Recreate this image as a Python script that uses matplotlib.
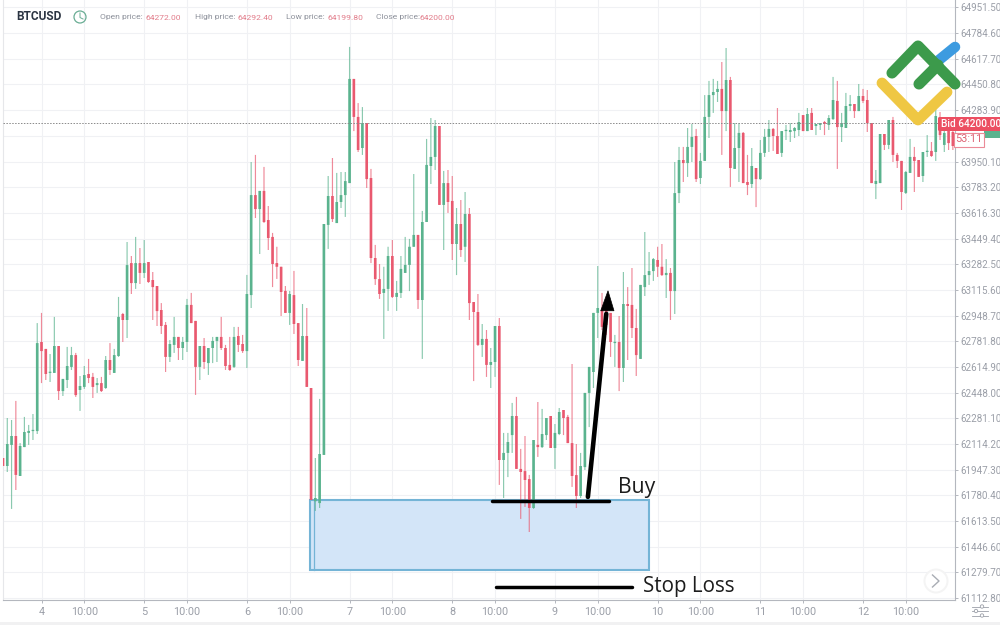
import matplotlib
matplotlib.use('Agg')
import matplotlib.pyplot as plt
from matplotlib.patches import Circle, FancyBboxPatch, Polygon, Rectangle
import numpy as np

# hourly BTCUSD candles
opens = [62023, 61971, 62108, 62166, 61906, 62094, 62186, 62198, 62198, 62777, 62732, 62576, 62576, 62751, 62458, 62530,
         62615, 62692, 62465, 62485, 62569, 62550, 62497, 62510, 62478, 62660, 62576, 62686, 62959, 62920, 63290, 63160,
         63290, 63226, 63297, 63180, 63141, 62985, 62888, 62680, 62758, 62810, 62738, 62777, 63018, 62914, 62615, 62751,
         62640, 62738, 62784, 62810, 62738, 62628, 62615, 62816, 62764, 62718, 63082, 63732, 63641, 63759, 63570, 63460,
         63290, 63266, 63109, 62966, 63082, 62900, 62654, 62816, 62478, 61742, 61730, 62043, 63538, 63726, 63550, 63687,
         63732, 63810, 64487, 64240, 64038, 64200, 63843, 63323, 63186, 63096, 63122, 63336, 63070, 63096, 63226, 63278,
         63396, 63473, 63050, 63557, 63921, 63980, 64181, 63668, 63810, 63694, 63414, 63544, 63396, 63609, 63037, 62972,
         62758, 62797, 62628, 62647, 62881, 62010, 62056, 62172, 62296, 61952, 61938, 61886, 61698, 62108, 62094, 62172,
         62296, 62088, 62179, 62335, 62290, 62120, 61912, 61776, 61964, 62446, 62582, 62966, 62985, 62985, 62966, 62770,
         62777, 62608, 63024, 63018, 62868, 62667, 63134, 63212, 63238, 63310, 63266, 63212, 63226, 63108, 63745, 63960,
         63940, 64045, 64116, 63843, 63954, 64240, 64382, 64402, 64422, 64278, 64480, 63902, 64038, 64136, 63817, 63804,
         63908, 63836, 64006, 64110, 64162, 64116, 64006, 64148, 64142, 64148, 64155, 64252, 64148, 64266, 64181, 64188,
         64207, 64188, 64226, 64344, 64174, 64168, 64311, 64324, 64278, 64376, 64350, 64200, 63804, 63810, 64129, 64058,
         64220, 63993, 63954, 63746, 63876, 63980, 63960, 63856, 64012, 64019, 64012, 64233, 64058, 64155, 64142]
closes = [61971, 62114, 62166, 61913, 62101, 62192, 62199, 62205, 62770, 62718, 62569, 62582, 62751, 62458, 62537, 62621,
          62692, 62432, 62491, 62562, 62543, 62485, 62510, 62458, 62660, 62595, 62692, 62940, 62920, 63277, 63160, 63290,
          63226, 63290, 63167, 63134, 62978, 62881, 62680, 62764, 62810, 62738, 62777, 63018, 62900, 62615, 62751, 62647,
          62738, 62784, 62810, 62738, 62621, 62595, 62810, 62758, 62718, 63089, 63732, 63641, 63759, 63557, 63453, 63284,
          63266, 63102, 62966, 63089, 62894, 62660, 62816, 62485, 61750, 61763, 62049, 63544, 63726, 63576, 63687, 63732,
          63823, 64487, 64240, 64025, 64200, 63836, 63323, 63186, 63089, 63122, 63336, 63070, 63096, 63252, 63278, 63396,
          63473, 63050, 63557, 63928, 63980, 64181, 63668, 63810, 63687, 63414, 63544, 63375, 63609, 63030, 62972, 62758,
          62797, 62628, 62647, 62881, 62010, 62056, 62127, 62296, 61952, 61932, 61880, 61698, 62140, 62094, 62179, 62283,
          62088, 62186, 62322, 62283, 62120, 61906, 61776, 61971, 62446, 62615, 62966, 62998, 62875, 62888, 62777, 62777,
          62608, 63024, 63011, 62868, 62692, 63148, 63212, 63238, 63316, 63266, 63212, 63226, 63108, 63745, 63960, 63940,
          64045, 64110, 63836, 63954, 64240, 64382, 64402, 64422, 64278, 64480, 63908, 64038, 64136, 63810, 63798, 63921,
          63836, 64006, 64110, 64162, 64116, 63999, 64148, 64155, 64155, 64168, 64207, 64148, 64259, 64155, 64194, 64200,
          64194, 64233, 64350, 64174, 64200, 64311, 64324, 64278, 64376, 64344, 64200, 63810, 63824, 64129, 64058, 64220,
          63993, 63954, 63752, 63882, 63980, 63954, 63850, 64012, 64019, 63986, 64246, 64122, 64136, 64070, 64051]
highs = [62023, 62283, 62270, 62394, 62120, 62290, 62238, 62309, 62900, 62966, 62732, 62699, 62940, 62751, 62537, 62745,
         62745, 62706, 62556, 62621, 62667, 62576, 62543, 62550, 62686, 62770, 62732, 63070, 62966, 63427, 63336, 63460,
         63388, 63440, 63297, 63232, 63141, 63030, 62907, 62790, 62940, 62810, 62810, 63057, 63096, 62914, 62751, 62803,
         62738, 62810, 62810, 62940, 62758, 62810, 62875, 62875, 62823, 63213, 63947, 63993, 63759, 63915, 63661, 63486,
         63396, 63266, 63141, 63109, 63239, 62900, 63024, 62998, 62478, 62023, 62407, 63544, 63856, 63973, 63876, 63882,
         63882, 64695, 64487, 64330, 64304, 64200, 63902, 63408, 63284, 63266, 63396, 63440, 63174, 63336, 63460, 63447,
         63869, 63473, 63629, 64097, 64233, 64220, 64181, 63889, 63895, 63856, 63648, 63700, 63752, 63648, 63037, 63089,
         62894, 62855, 62738, 62881, 62933, 62186, 62186, 62381, 62420, 62082, 62166, 61913, 62140, 62387, 62342, 62283,
         62296, 62244, 62348, 62335, 62303, 62634, 62114, 62056, 62446, 62615, 62966, 63271, 63096, 63050, 62966, 62823,
         62946, 63232, 63134, 63258, 62992, 63148, 63492, 63362, 63323, 63396, 63414, 63316, 63258, 63947, 64045, 64045,
         64168, 64194, 64162, 64006, 64382, 64474, 64487, 64474, 64597, 64688, 64500, 64200, 64200, 64142, 63993, 64038,
         63908, 64090, 64162, 64220, 64168, 64298, 64148, 64188, 64200, 64174, 64266, 64252, 64298, 64298, 64194, 64200,
         64214, 64252, 64500, 64474, 64266, 64396, 64382, 64324, 64454, 64422, 64415, 64200, 63895, 64129, 64129, 64220,
         64240, 64006, 63954, 63889, 64097, 64045, 63960, 64012, 64122, 64077, 64298, 64272, 64168, 64188, 64168]
lows = [61971, 61932, 61692, 61815, 61906, 62094, 62108, 62140, 62179, 62510, 62530, 62517, 62576, 62400, 62426, 62478,
        62595, 62420, 62329, 62472, 62510, 62413, 62446, 62452, 62472, 62563, 62576, 62680, 62777, 62803, 63089, 63122,
        63154, 63193, 63161, 62920, 62881, 62829, 62582, 62647, 62706, 62660, 62660, 62712, 62900, 62433, 62530, 62602,
        62563, 62640, 62647, 62725, 62595, 62589, 62608, 62712, 62706, 62608, 62998, 63583, 63349, 63551, 63375, 63134,
        63187, 62946, 62966, 62888, 62829, 62621, 62654, 62485, 61750, 61679, 61698, 62043, 63382, 63557, 63551, 63648,
        63590, 63810, 64148, 64012, 63993, 63778, 63290, 63148, 63057, 62797, 62979, 63063, 62979, 63063, 63226, 63108,
        63396, 62992, 62667, 63557, 63804, 63895, 63668, 63375, 63616, 63310, 63212, 63330, 63297, 62920, 62523, 62751,
        62680, 62550, 62478, 62550, 61848, 61763, 61899, 62056, 61952, 61627, 61705, 61542, 61692, 62030, 62088, 62140,
        62088, 61952, 62172, 62172, 62120, 61835, 61698, 61763, 61945, 62224, 62478, 62803, 62855, 62823, 62680, 62615,
        62458, 62517, 62660, 62803, 62556, 62667, 63076, 63148, 63174, 63200, 63206, 63063, 62920, 62959, 63680, 63817,
        63850, 63947, 63817, 63804, 63954, 64103, 64266, 64337, 63993, 64148, 63785, 63902, 63817, 63810, 63732, 63778,
        63654, 63830, 63980, 64012, 64019, 63999, 63980, 64090, 64077, 64103, 64116, 64148, 64148, 64155, 64122, 64155,
        64122, 64155, 64220, 63902, 64077, 64168, 64278, 64233, 64278, 64330, 64142, 63810, 63706, 63810, 64025, 64031,
        63947, 63908, 63635, 63739, 63876, 63752, 63850, 63817, 63980, 63980, 63954, 64090, 64012, 64025, 64025]

# 64117.00 is hidden behind the bid labels in the reference
price_ticks = [64951.5, 64784.6, 64617.7, 64450.8, 64283.9, 64117.0, 63950.1, 63783.2, 63616.3, 63449.4, 63282.5, 63115.6,
               62948.7, 62781.8, 62614.9, 62448.0, 62281.1, 62114.2, 61947.3, 61780.4, 61613.5, 61446.6, 61279.7, 61112.8]
price_labels = ['64951.50', '64784.60', '64617.70', '64450.80', '64283.90', '', '63950.10', '63783.20', '63616.30',
                '63449.40', '63282.50', '63115.60', '62948.70', '62781.80', '62614.90', '62448.00', '62281.10', '62114.20',
                '61947.30', '61780.40', '61613.50', '61446.60', '61279.70', '61112.80']
time_ticks = [9, 19, 33, 43, 57, 67, 81, 91, 105, 115, 129, 139, 153, 163, 177, 187, 201, 211]
time_labels = ['4', '10:00', '5', '10:00', '6', '10:00', '7', '10:00', '8', '10:00', '9', '10:00', '10', '10:00', '11',
               '10:00', '12', '10:00']
bid_price = 64200

GREEN = '#5ab38e'
RED = '#e9596f'
GRID = '#f0f1f4'
AXIS = '#b4b7be'
LABEL = '#9b9fa8'

plt.rcParams['font.family'] = ['Roboto', 'DejaVu Sans']

fig = plt.figure(figsize=(10, 6.25), dpi=100)
ax = fig.add_axes([0.003, 25 / 625, 0.952, 600 / 625])
ax.set_xlim(0, 222.5)
ax.set_ylim(61100, 65000)

ax.set_yticks(price_ticks, price_labels)
ax.yaxis.tick_right()
ax.set_xticks(time_ticks, time_labels)
ax.grid(True, color=GRID, lw=0.8)
ax.set_axisbelow(True)
ax.tick_params(axis='y', length=2.5, width=0.7, color=AXIS, labelcolor=LABEL, labelsize=7.1, pad=1.2)
ax.tick_params(axis='x', length=2.5, width=0.7, color=AXIS, labelcolor=LABEL, labelsize=7.8, pad=2.5)
ax.spines['top'].set_visible(False)
ax.spines['left'].set_color('#e6e7ea')
ax.spines['right'].set_color(AXIS)
ax.spines['bottom'].set_color(AXIS)

# blue zone goes under the candles, wicks show through it
ax.add_patch(Rectangle((71.8, 61295), 79.2, 455, fc='#d3e5f8', ec='#74b4d6', lw=1.5, zorder=1.5))
ax.plot([72.8, 72.8], [61295, 61750], color='#74b4d6', lw=0.9, zorder=1.6)

o = np.array(opens)
c = np.array(closes)
h = np.array(highs)
l = np.array(lows)
idx = np.arange(len(o))
colors = np.where(c >= o, GREEN, RED)
wicks = ax.vlines(idx, l, h, colors=colors, lw=0.85, alpha=0.7, zorder=2)
wicks.set_snap(False)
bodies = ax.bar(idx, np.maximum(np.abs(c - o), 8), bottom=np.minimum(o, c), width=0.62, color=colors, zorder=3)
for b in bodies:
    b.set_snap(False)

ax.axhline(bid_price, color='#8a8a8a', lw=0.7, ls=(0, (1.5, 1.5)), zorder=4)

# hand drawn trade marks
ax.plot([114.4, 141.7], [61745, 61745], color='black', lw=2.5, solid_capstyle='round', zorder=5)
ax.plot([115.3, 146.9], [61185, 61185], color='black', lw=2.5, solid_capstyle='round', zorder=5)
ax.plot([136.7, 141.0], [61770, 62960], color='black', lw=3.3, solid_capstyle='round', zorder=5)
ax.add_patch(Polygon([[141.4, 63110], [139.7, 62980], [142.8, 62980]], fc='black', ec='black', lw=0.5, zorder=5))

# everything else sits on a pixel overlay
top = fig.add_axes([0, 0, 1, 1])
top.set_xlim(0, 1000)
top.set_ylim(625, 0)
top.axis('off')
top.patch.set_alpha(0)

top.add_patch(Rectangle((0, 622), 1000, 3, fc='#f1f1f2', ec='none'))

top.text(16, 17, 'BTCUSD', fontsize=8.6, fontweight='bold', color='#2b3442', va='center')
top.add_patch(Circle((80, 17), 6, fc='none', ec='#69ad94', lw=0.9))
top.plot([80, 80, 83], [13, 17.5, 19], color='#69ad94', lw=0.7)

header = [(100, 'Open price:', 146, '64272.00'), (195, 'High price:', 237, '64292.40'),
          (286, 'Low price:', 328, '64199.80'), (376, 'Close price:', 419, '64200.00')]
for x0, name, x1, val in header:
    top.text(x0, 17.5, name, fontsize=6.1, color='#8d919b', va='center')
    top.text(x1, 17.5, val, fontsize=6.1, color='#e27d8b', va='center')

# price labels at the right edge
top.add_patch(Rectangle((984, 131), 16, 7, fc='#5ab38e', ec='none'))
top.add_patch(FancyBboxPatch((938, 117), 70, 14, boxstyle='round,pad=0,rounding_size=1.5', fc='#ec4f62', ec='none'))
top.text(941, 124, 'Bid 64200.00', fontsize=7.3, color='white', fontweight='medium', va='center')
top.add_patch(Rectangle((953.5, 132.5), 30.5, 14, fc='white', ec='#eb8b98', lw=0.8))
top.text(968.7, 139.5, '53:11', fontsize=7.8, color='#dd6475', ha='center', va='center')

top.text(618, 488, 'Buy', fontsize=15.2, family='Open Sans', color='#1c1c1c', va='center')
top.text(643, 586.5, 'Stop Loss', fontsize=14.8, family='Open Sans', color='#1c1c1c', va='center')

# scroll button
top.add_patch(Circle((936, 581), 12.5, fc='#f4f4f4', ec='none'))
top.add_patch(Circle((936, 581), 10.5, fc='white', ec='none'))
top.plot([932.5, 939, 932.5], [575, 581, 587], color='#a9adb4', lw=1)

# settings icon
for y, cx in [(606.5, 982), (611, 976), (615.5, 982)]:
    top.plot([972, 988], [y, y], color='#9b9fa8', lw=0.6)
    top.add_patch(Circle((cx, y), 1.7, fc='white', ec='#9b9fa8', lw=0.6, zorder=3))

# logo
top.plot([939, 955], [60, 47], color='#3d9be0', lw=7.6, solid_capstyle='round', zorder=6)
top.plot([882, 918, 947], [83, 120, 92], color='#efc743', lw=7.8, solid_capstyle='round', solid_joinstyle='round', zorder=6)
top.plot([892, 918, 955], [73, 46, 84], color='#3c9a4b', lw=8, solid_capstyle='round', solid_joinstyle='round', zorder=7)
top.plot([919, 938], [84, 65], color='#3c9a4b', lw=8, solid_capstyle='round', zorder=7)

fig.savefig('out.png', dpi=100)
